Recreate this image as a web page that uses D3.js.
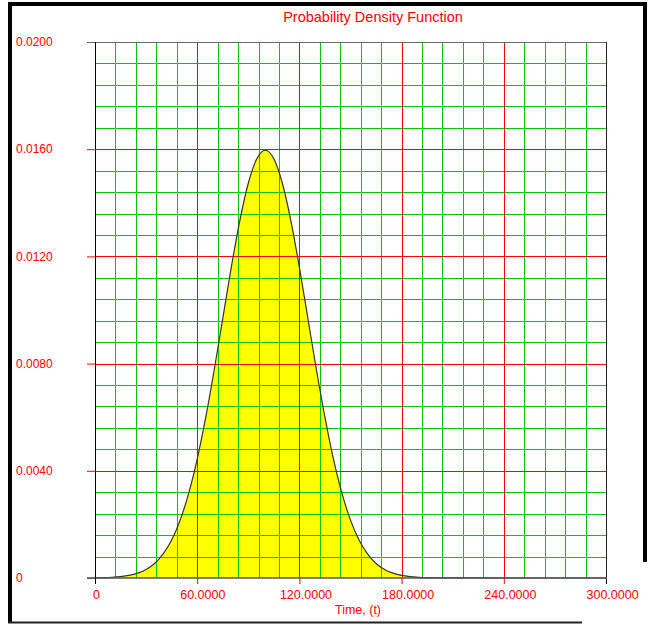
<!DOCTYPE html>
<html>
<head>
<meta charset="utf-8">
<script src="https://cdn.jsdelivr.net/npm/d3@7"></script>
<style>
  body { margin: 0; background: #fff; }
  svg { display: block; font-family: "Liberation Sans", Arial, sans-serif; }
</style>
</head>
<body>
<svg id="chart" width="648" height="625"></svg>
<script>
// time values and the density
const times = [0, 5, 10, 15, 20, 25, 30, 35, 40, 45, 50, 55, 60, 65, 70, 75, 80, 85, 90, 95,
  100, 105, 110, 115, 120, 125, 130, 135, 140, 145, 150, 155, 160, 165, 170, 175, 180,
  185, 190, 195, 200, 250, 300];
const density = [0.000005, 0.000012, 0.000025, 0.00005, 0.000095, 0.00018, 0.00032, 0.00054,
  0.0009, 0.00142, 0.00216, 0.00316, 0.00444, 0.00599, 0.00777, 0.00968, 0.01159, 0.01333,
  0.01473, 0.01564, 0.01596, 0.01564, 0.01473, 0.01333, 0.01159, 0.00968, 0.00777, 0.00599,
  0.00444, 0.00316, 0.00216, 0.00142, 0.0009, 0.00054, 0.00032, 0.00018, 0.000095,
  0.00005, 0.000025, 0.000012, 0.000005, 0, 0];

const xTicks = [0, 60, 120, 180, 240, 300];
const xTickLabels = ['0', '60.0000', '120.0000', '180.0000', '240.0000', '300.0000'];
const yTicks = [0, 0.004, 0.008, 0.012, 0.016, 0.02];
const yTickLabels = ['0', '0.0040', '0.0080', '0.0120', '0.0160', '0.0200'];

const data = times.map((t, i) => ({ t: t, v: density[i] }));

const svg = d3.select('#chart');
const pLeft = 95, pRight = 606, pTop = 42, pBottom = 578;
const red = '#ff0000';
const green = '#00c800';

const x = d3.scaleLinear().domain([0, 300]).range([pLeft, pRight]);
const y = d3.scaleLinear().domain([0, 0.02]).range([pBottom, pTop]);

// frame
svg.append('rect').attr('x', 8).attr('y', 2).attr('width', 639).attr('height', 4).attr('fill', '#000');
svg.append('rect').attr('x', 8).attr('y', 2).attr('width', 4).attr('height', 621).attr('fill', '#000');
svg.append('rect').attr('x', 643).attr('y', 2).attr('width', 4).attr('height', 560).attr('fill', '#000');
svg.append('line').attr('x1', 8).attr('x2', 582).attr('y1', 622.5).attr('y2', 622.5)
  .attr('stroke', '#222').attr('stroke-width', 2);

// filled curve
const area = d3.area()
  .x(d => x(d.t))
  .y0(y(0))
  .y1(d => y(d.v))
  .curve(d3.curveMonotoneX);

svg.append('path')
  .datum(data)
  .attr('d', area)
  .attr('fill', '#ffff00');

// grid
const minorX = d3.range(12, 300, 12).filter(v => v % 60 !== 0);
const minorY = d3.range(1, 25).map(i => i * 0.0008).filter((v, i) => (i + 1) % 5 !== 0);

const grid = svg.append('g');
grid.selectAll('.vx')
  .data(minorX)
  .enter()
  .append('line')
  .attr('x1', d => Math.round(x(d)) + 0.5)
  .attr('x2', d => Math.round(x(d)) + 0.5)
  .attr('y1', pTop)
  .attr('y2', pBottom)
  .attr('stroke', green);

grid.selectAll('.hy')
  .data(minorY)
  .enter()
  .append('line')
  .attr('x1', pLeft)
  .attr('x2', pRight)
  .attr('y1', d => Math.round(y(d)) + 0.5)
  .attr('y2', d => Math.round(y(d)) + 0.5)
  .attr('stroke', green);

grid.selectAll('.mx')
  .data(xTicks.slice(1, -1))
  .enter()
  .append('line')
  .attr('x1', d => Math.round(x(d)) + 0.5)
  .attr('x2', d => Math.round(x(d)) + 0.5)
  .attr('y1', pTop)
  .attr('y2', pBottom)
  .attr('stroke', red);

grid.selectAll('.my')
  .data(yTicks.slice(1, -1))
  .enter()
  .append('line')
  .attr('x1', pLeft)
  .attr('x2', pRight)
  .attr('y1', d => Math.round(y(d)) + 0.5)
  .attr('y2', d => Math.round(y(d)) + 0.5)
  .attr('stroke', red);

// curve outline
const line = d3.line()
  .x(d => x(d.t))
  .y(d => y(d.v))
  .curve(d3.curveMonotoneX);

svg.append('path')
  .datum(data)
  .attr('d', line)
  .attr('fill', 'none')
  .attr('stroke', '#333')
  .attr('stroke-width', 1.2);

// axes
const xAxis = d3.axisBottom(x)
  .tickValues(xTicks)
  .tickSize(6)
  .tickPadding(7)
  .tickSizeOuter(0)
  .tickFormat((d, i) => xTickLabels[i]);

const gx = svg.append('g')
  .attr('transform', `translate(0, ${pBottom})`)
  .call(xAxis);
gx.select('.domain').remove();
gx.selectAll('.tick line')
  .attr('stroke', (d, i) => (i === 0 || i === xTicks.length - 1) ? '#000' : red);
gx.selectAll('.tick text')
  .attr('text-anchor', 'start')
  .attr('x', (d, i) => -2.5 * xTickLabels[i].length)
  .attr('y', 12)
  .attr('fill', red)
  .attr('font-size', 12.5)
  .attr('font-family', null);

const yAxis = d3.axisLeft(y)
  .tickValues(yTicks)
  .tickSize(8)
  .tickSizeOuter(0)
  .tickFormat((d, i) => yTickLabels[i]);

const gy = svg.append('g')
  .attr('transform', `translate(${pLeft}, 0)`)
  .call(yAxis);
gy.select('.domain').remove();
gy.selectAll('.tick line')
  .attr('stroke', (d, i) => i === 0 ? '#555' : (i === yTicks.length - 1 ? '#666' : red));
gy.selectAll('.tick text')
  .attr('text-anchor', 'start')
  .attr('x', 16 - pLeft)
  .attr('dy', '0.3em')
  .attr('fill', red)
  .attr('font-size', 12)
  .attr('font-family', null);

// plot border
svg.append('line').attr('x1', pLeft).attr('x2', pRight).attr('y1', pTop + 0.5).attr('y2', pTop + 0.5)
  .attr('stroke', '#666');
svg.append('line').attr('x1', pRight + 0.5).attr('x2', pRight + 0.5).attr('y1', pTop).attr('y2', pBottom)
  .attr('stroke', '#222');
svg.append('line').attr('x1', pLeft - 8).attr('x2', pRight + 1).attr('y1', pBottom).attr('y2', pBottom)
  .attr('stroke', '#555').attr('stroke-width', 1.5);
svg.append('line').attr('x1', pLeft + 0.5).attr('x2', pLeft + 0.5).attr('y1', pTop).attr('y2', pBottom + 6)
  .attr('stroke', '#000');

// titles
svg.append('text')
  .attr('x', 373)
  .attr('y', 22)
  .attr('text-anchor', 'middle')
  .attr('fill', red)
  .attr('font-size', 14.5)
  .text('Probability Density Function');

svg.append('text')
  .attr('x', 358)
  .attr('y', 614)
  .attr('text-anchor', 'middle')
  .attr('fill', red)
  .attr('font-size', 12.5)
  .text('Time, (t)');
</script>
</body>
</html>
